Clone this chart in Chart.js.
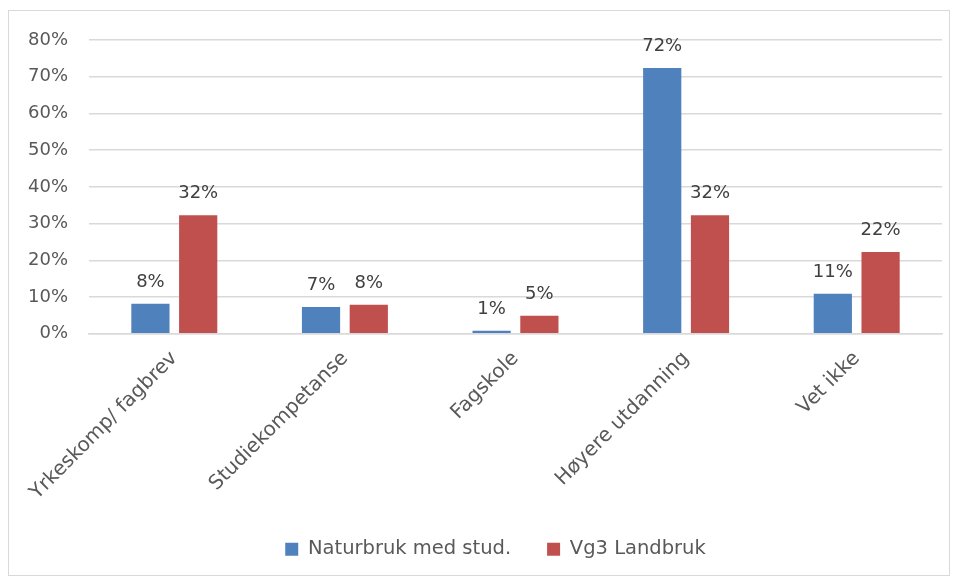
<!DOCTYPE html>
<html>
<head>
<meta charset="utf-8">
<script src="https://cdn.jsdelivr.net/npm/chart.js@4"></script>
<style>
  body { margin: 0; background: #fff; }
  #wrap { position: relative; width: 956px; height: 580px; }
</style>
</head>
<body>
<div id="wrap"><canvas id="utdanning-chart" width="956" height="580"></canvas></div>
<script>
// data (percent)
var kategorier = ["Yrkeskomp/ fagbrev", "Studiekompetanse", "Fagskole", "Høyere utdanning", "Vet ikke"];
var naturbruk = [8.2, 7.3, 0.8, 72.4, 10.9];
var landbruk = [32.3, 7.9, 4.9, 32.3, 22.3];
var serieNavn = ["Naturbruk med stud.", "Vg3 Landbruk"];
var yTicks = [0, 10, 20, 30, 40, 50, 60, 70, 80];

var fontFam = "'DejaVu Sans', sans-serif";

// ramme rundt hele diagrammet
var rammePlugin = {
    id: 'ramme',
    beforeDraw: function(chart) {
        var ctx = chart.ctx;
        ctx.save();
        ctx.fillStyle = '#fff';
        ctx.fillRect(0, 0, chart.width, chart.height);
        ctx.strokeStyle = '#d9d9d9';
        ctx.lineWidth = 1;
        ctx.strokeRect(8.5, 10.5, 941, 565);
        ctx.restore();
    },
    afterLayout: function(chart) {
        // flytt forklaringen litt mot høyre
        chart.legend.left += 21;
        chart.legend.right += 21;
    }
};

// verdier over stolpene
var etikettPlugin = {
    id: 'etiketter',
    afterDatasetsDraw: function(chart) {
        var ctx = chart.ctx;
        ctx.save();
        ctx.font = '18px ' + fontFam;
        ctx.fillStyle = '#404040';
        ctx.textAlign = 'center';
        ctx.textBaseline = 'alphabetic';
        chart.data.datasets.forEach(function(ds, i) {
            chart.getDatasetMeta(i).data.forEach(function(bar, j) {
                ctx.fillText(Math.round(ds.data[j]) + '%', bar.x, bar.y - 17);
            });
        });
        ctx.restore();
    }
};

new Chart(document.getElementById("utdanning-chart"), {
    type: 'bar',
    data: {
        labels: kategorier,
        datasets: [
            {
                label: serieNavn[0],
                backgroundColor: '#4f81bd',
                data: naturbruk
            },
            {
                label: serieNavn[1],
                backgroundColor: '#c0504d',
                data: landbruk
            }
        ]
    },
    options: {
        responsive: false,
        animation: false,
        layout: { padding: { left: 7, right: 14, top: 40, bottom: 11 } },
        datasets: {
            bar: { categoryPercentage: 0.56, barPercentage: 0.8 }
        },
        plugins: {
            legend: {
                position: 'bottom',
                labels: {
                    boxWidth: 13,
                    boxHeight: 13,
                    padding: 36,
                    color: '#595959',
                    font: { family: fontFam, size: 19.5 }
                }
            },
            tooltip: { enabled: false }
        },
        scales: {
            x: {
                grid: { display: false },
                border: { color: '#d9d9d9', width: 1.5 },
                afterFit: function(s) {
                    s.paddingLeft = 0;
                    s.paddingRight = 0;
                    s.height -= 6;
                },
                ticks: {
                    minRotation: 45,
                    maxRotation: 45,
                    padding: 5,
                    color: '#595959',
                    font: { family: fontFam, size: 20 }
                }
            },
            y: {
                min: yTicks[0],
                max: yTicks[yTicks.length - 1],
                afterBuildTicks: function(axis) {
                    axis.ticks = yTicks.map(function(v) { return { value: v }; });
                },
                grid: { color: '#d9d9d9', lineWidth: 1.5, drawTicks: false },
                border: { display: false },
                ticks: {
                    padding: 21,
                    color: '#595959',
                    font: { family: fontFam, size: 18 },
                    callback: function(v) { return v + '%'; }
                }
            }
        }
    },
    plugins: [rammePlugin, etikettPlugin]
});
</script>
</body>
</html>
